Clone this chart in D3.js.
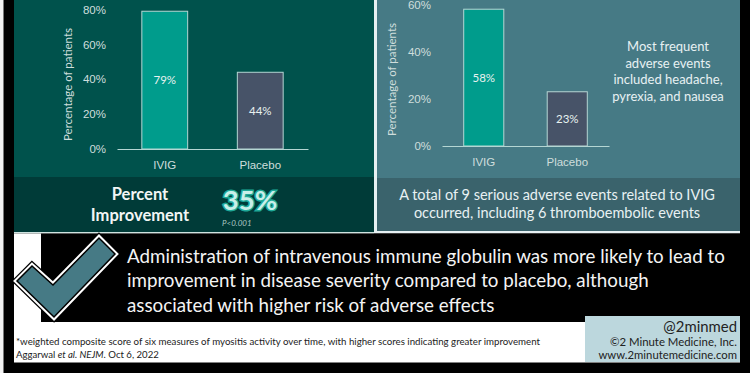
<!DOCTYPE html>
<html>
<head>
<meta charset="utf-8">
<script src="https://cdn.jsdelivr.net/npm/d3@7"></script>
<style>
  html, body { margin: 0; padding: 0; background: #000; }
  svg { display: block; font-family: Lato, "Open Sans", sans-serif; }
  .tick text { fill: #cfdedc; font-size: 11.5px; }
</style>
</head>
<body>
<svg id="chart" width="750" height="373"></svg>
<script>
// Chart data
const groups = ['IVIG', 'Placebo'];
const improvementValues = [79, 44];
const adverseValues = [58, 23];
const improvementTicks = [0, 20, 40, 60, 80];
const adverseTicks = [0, 20, 40, 60];
const sideNote = ['Most frequent', 'adverse events', 'included headache,', 'pyrexia, and nausea'];
const adverseNote = ['A total of 9 serious adverse events related to IVIG', 'occurred, including 6 thromboembolic events'];
const conclusion = [
    'Administration of intravenous immune globulin was more likely to lead to',
    'improvement in disease severity compared to placebo, although',
    'associated with higher risk of adverse effects'
];

const barColors = ['#009c8c', '#475368'];
const svg = d3.select('#chart');

function rect(x, y, w, h, fill) {
    return svg.append('rect').attr('x', x).attr('y', y).attr('width', w).attr('height', h).attr('fill', fill);
}

function label(x, y, str, size, fill, anchor) {
    return svg.append('text')
        .attr('x', x).attr('y', y)
        .attr('font-size', size)
        .attr('fill', fill)
        .attr('text-anchor', anchor || 'middle')
        .text(str);
}

// Background panels
rect(0, 0, 750, 373, '#000');
rect(0, 0, 3.5, 373, '#f2f2f2');
rect(14, 0, 360, 232, '#00524c');
rect(14, 177, 360, 55, '#003b38');
rect(374, 0, 3, 233, '#e6f0f2');
rect(14, 232, 360, 1.5, '#cfe3e0');
rect(377, 0, 363, 232, '#467a85');
rect(377, 178, 363, 53, '#3a636c');
rect(377, 231, 363, 2, '#e6f0f2');

// Draw one bar chart with its own scales and axes
function drawBars(values, ticks, yDomainMax, xRange, yRange, titleX, titleOffset) {
    const x = d3.scaleBand().domain(groups).range(xRange).paddingInner(0.52).paddingOuter(0.26);
    const y = d3.scaleLinear().domain([0, yDomainMax]).range(yRange);

    const g = svg.append('g');

    g.selectAll('.bar')
        .data(values)
        .enter()
        .append('rect')
        .attr('class', 'bar')
        .attr('x', (d, i) => x(groups[i]))
        .attr('y', d => y(d))
        .attr('width', x.bandwidth())
        .attr('height', d => y(0) - y(d))
        .attr('fill', (d, i) => barColors[i])
        .attr('stroke', '#b5d6d3')
        .attr('stroke-width', 1);

    g.selectAll('.bar-label')
        .data(values)
        .enter()
        .append('text')
        .attr('class', 'bar-label')
        .attr('x', (d, i) => x(groups[i]) + x.bandwidth() / 2)
        .attr('y', d => (y(d) + y(0)) / 2 + 4)
        .attr('text-anchor', 'middle')
        .attr('font-size', 11.5)
        .attr('fill', '#e8f2f0')
        .text(d => d + '%');

    const yAxis = g.append('g')
        .attr('transform', `translate(${xRange[0]},0)`)
        .call(d3.axisLeft(y).tickValues(ticks).tickFormat(d => d + '%').tickSize(0).tickPadding(11));
    yAxis.select('.domain').remove();

    const xAxis = g.append('g')
        .attr('transform', `translate(0,${yRange[0]})`)
        .call(d3.axisBottom(x).tickSize(0).tickPadding(12));
    xAxis.select('.domain').attr('stroke', '#b5d6d3').attr('stroke-width', 1);

    g.append('text')
        .attr('transform', `translate(${titleX},${y(0) - titleOffset}) rotate(-90)`)
        .attr('font-size', 11.5)
        .attr('fill', '#cfdedc')
        .text('Percentage of patients');
}

drawBars(improvementValues, improvementTicks, 80, [117, 308], [149, 9.5], 72, 8);
drawBars(adverseValues, adverseTicks, 60, [442, 609], [146, 4.5], 396, 10);

// Left panel footer
label(140, 200, 'Percent', 16.5, '#f2f6f5').attr('font-weight', 700);
label(140, 221, 'Improvement', 16.5, '#f2f6f5').attr('font-weight', 700);
label(250, 210, '35%', 27.5, '#c9efe9', 'middle')
    .attr('font-weight', 700)
    .attr('stroke', '#1fa898')
    .attr('stroke-width', 3)
    .attr('paint-order', 'stroke');
label(222, 226, 'P<0.001', 8, '#a9c4c0', 'start').attr('font-style', 'italic');

// Right panel notes
sideNote.forEach((t, i) => label(668, 51 + i * 16.6, t, 13, '#e8f1f3'));
adverseNote.forEach((t, i) => label(557, 200 + i * 18, t, 14.5, '#e8f1f3'));

// Lower section
rect(14, 233.5, 726, 129, '#fff');
rect(41, 233.5, 709, 88.5, '#000');
rect(585, 316, 155, 46, '#bcd7dd');
rect(740, 233, 10, 140, '#000');

// Check mark
const checkMark = 'M17,281 L32,266 L53,285 L99,238 L115,254 L54,317 Z';
svg.append('path').attr('d', checkMark).attr('fill', 'none').attr('stroke', '#000').attr('stroke-width', 8).attr('stroke-linejoin', 'miter');
svg.append('path').attr('d', checkMark).attr('fill', 'none').attr('stroke', '#fff').attr('stroke-width', 5.5).attr('stroke-linejoin', 'miter');
svg.append('path').attr('d', checkMark).attr('fill', '#467a85').attr('stroke', '#000').attr('stroke-width', 1.5);

conclusion.forEach((t, i) => label(127, 263 + i * 24.3, t, 18.75, '#f4f4f4', 'start'));

// Footnotes
label(16, 345, '*weighted composite score of six measures of myositis activity over time, with higher scores indicating greater improvement', 9.7, '#222', 'start');
const cite = label(16, 358, '', 9.6, '#222', 'start');
cite.append('tspan').text('Aggarwal ');
cite.append('tspan').attr('font-style', 'italic').text('et al. NEJM');
cite.append('tspan').text('. Oct 6, 2022');

// Credit box
label(737, 332, '@2minmed', 14.9, '#222', 'end');
label(737, 346, '©2 Minute Medicine, Inc.', 11.4, '#222', 'end');
label(737, 359, 'www.2minutemedicine.com', 11.3, '#222', 'end');
</script>
</body>
</html>
